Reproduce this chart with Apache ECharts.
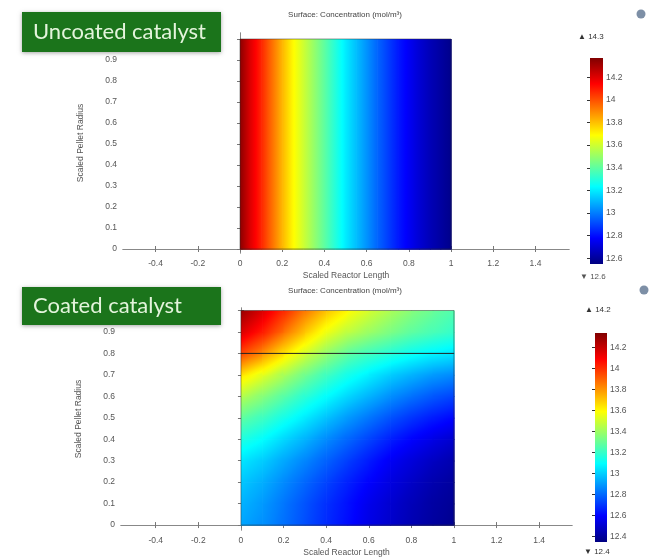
<!DOCTYPE html>
<html>
<head>
<meta charset="utf-8">
<script src="https://cdn.jsdelivr.net/npm/echarts@6/dist/echarts.min.js"></script>
<style>html,body{margin:0;padding:0;background:#fff;}#c{width:662px;height:558px;}</style>
</head>
<body>
<div id="c"></div>
<script>
// ---------- data ----------
// Uncoated catalyst: concentration varies only along reactor length
const topX = [0, 0.05, 0.1, 0.15, 0.2, 0.25, 0.3, 0.35, 0.4, 0.45, 0.5, 0.55, 0.6, 0.65, 0.7, 0.75, 0.8, 0.85, 0.9, 0.95, 1.0];
const topConc = [14.35, 14.2, 14.08, 13.95, 13.82, 13.7, 13.6, 13.5, 13.4, 13.3, 13.2, 13.12, 13.04, 12.96, 12.89, 12.82, 12.76, 12.7, 12.65, 12.61, 12.57];
// Coated catalyst: 2D field, rows from radius 0 (bottom) to 1 (top)
const botX = [0, 0.1, 0.2, 0.3, 0.4, 0.5, 0.6, 0.7, 0.8, 0.9, 1.0];
const botY = [0, 0.1, 0.2, 0.3, 0.4, 0.5, 0.6, 0.7, 0.8, 0.9, 1.0];
const botConc = [
  [12.92, 12.88, 12.82, 12.75, 12.68, 12.62, 12.55, 12.5, 12.45, 12.41, 12.38],
  [12.95, 12.9, 12.83, 12.76, 12.69, 12.63, 12.56, 12.51, 12.46, 12.42, 12.39],
  [12.99, 12.94, 12.87, 12.8, 12.73, 12.66, 12.6, 12.54, 12.49, 12.44, 12.41],
  [13.05, 13.0, 12.93, 12.86, 12.79, 12.72, 12.65, 12.58, 12.53, 12.48, 12.44],
  [13.16, 13.1, 13.02, 12.95, 12.87, 12.8, 12.73, 12.66, 12.6, 12.55, 12.5],
  [13.28, 13.22, 13.14, 13.06, 12.98, 12.9, 12.83, 12.76, 12.7, 12.65, 12.61],
  [13.45, 13.36, 13.27, 13.18, 13.1, 13.02, 12.95, 12.88, 12.82, 12.77, 12.73],
  [13.65, 13.54, 13.43, 13.32, 13.22, 13.14, 13.07, 13.0, 12.95, 12.9, 12.87],
  [13.97, 13.82, 13.65, 13.51, 13.39, 13.28, 13.22, 13.17, 13.12, 13.08, 13.05],
  [14.16, 14.05, 13.88, 13.71, 13.56, 13.47, 13.4, 13.34, 13.28, 13.24, 13.2],
  [14.3, 14.16, 14.02, 13.86, 13.72, 13.6, 13.51, 13.43, 13.36, 13.3, 13.25]
];
const coatingBoundary = [[0, 0.8], [1, 0.8]];
const domainOutline = [[0, 0], [1, 0], [1, 1], [0, 1], [0, 0]];
// tick labels
const xTicks = [-0.4, -0.2, 0, 0.2, 0.4, 0.6, 0.8, 1, 1.2, 1.4];
const yTicks = [0, 0.1, 0.2, 0.3, 0.4, 0.5, 0.6, 0.7, 0.8, 0.9, 1];
const topBarTicks = [12.6, 12.8, 13, 13.2, 13.4, 13.6, 13.8, 14, 14.2];
const botBarTicks = [12.4, 12.6, 12.8, 13, 13.2, 13.4, 13.6, 13.8, 14, 14.2];
const topColorRange = [12.55, 14.37];
const botColorRange = [12.35, 14.34];
const topExtremes = ['14.3', '12.6'];
const botExtremes = ['14.2', '12.4'];
const titles = ['Uncoated catalyst', 'Coated catalyst'];
const plotTitle = 'Surface: Concentration (mol/m\u00b3)';
const xName = 'Scaled Reactor Length';
const yName = 'Scaled Pellet Radius';

// ---------- colour map (jet) ----------
const jetStops = [[0, [0, 0, 128]], [0.125, [0, 0, 255]], [0.375, [0, 255, 255]], [0.625, [255, 255, 0]], [0.875, [255, 0, 0]], [1, [128, 0, 0]]];
function jet(t) {
  t = Math.max(0, Math.min(1, t));
  for (let i = 1; i < jetStops.length; i++) {
    if (t <= jetStops[i][0]) {
      const a = jetStops[i - 1], b = jetStops[i];
      const f = (t - a[0]) / (b[0] - a[0]);
      const c = a[1].map((v, k) => Math.round(v + (b[1][k] - v) * f));
      return 'rgb(' + c.join(',') + ')';
    }
  }
  return 'rgb(128,0,0)';
}

// ---------- build cell tables ----------
const topCells = [];
for (let i = 0; i < topX.length - 1; i++) {
  topCells.push([topX[i], topX[i + 1], 0, 1, topConc[i], topConc[i + 1], topConc[i], topConc[i + 1]]);
}
const botCells = [];
for (let j = 0; j < botY.length - 1; j++) {
  for (let i = 0; i < botX.length - 1; i++) {
    botCells.push([botX[i], botX[i + 1], botY[j], botY[j + 1],
      botConc[j][i], botConc[j][i + 1], botConc[j + 1][i], botConc[j + 1][i + 1]]);
  }
}

function makeCellRenderer(range) {
  return function (params, api) {
    const x0 = api.value(0), x1 = api.value(1), y0 = api.value(2), y1 = api.value(3);
    const v00 = api.value(4), v10 = api.value(5), v01 = api.value(6), v11 = api.value(7);
    const pa = api.coord([x0, y0]), pb = api.coord([x1, y1]);
    const left = Math.min(pa[0], pb[0]), right = Math.max(pa[0], pb[0]);
    const top = Math.min(pa[1], pb[1]), bottom = Math.max(pa[1], pb[1]);
    const w = right - left, h = bottom - top;
    const gx = ((v10 - v00) + (v11 - v01)) / 2 / w;
    const gy = -((v01 - v00) + (v11 - v10)) / 2 / h;
    const mag = Math.hypot(gx, gy);
    let ux = 1, uy = 0;
    if (mag > 1e-9) { ux = gx / mag; uy = gy / mag; }
    const half = (Math.abs(ux) * w + Math.abs(uy) * h) / 2;
    const cx = left + w / 2, cy = top + h / 2;
    const vc = (v00 + v10 + v01 + v11) / 4;
    const vs = vc - mag * half, ve = vc + mag * half;
    const stops = [];
    const N = 8;
    for (let k = 0; k <= N; k++) {
      const v = vs + (ve - vs) * k / N;
      stops.push({ offset: k / N, color: jet((v - range[0]) / (range[1] - range[0])) });
    }
    return {
      type: 'rect',
      shape: { x: left, y: top, width: w + 0.7, height: h + 0.7 },
      style: { fill: new echarts.graphic.LinearGradient(cx - ux * half, cy - uy * half, cx + ux * half, cy + uy * half, stops, true) }
    };
  };
}

function colorbarRenderer(params, api) {
  const pa = api.coord([0, api.value(0)]), pb = api.coord([1, api.value(1)]);
  const stops = jetStops.map(s => ({ offset: 1 - s[0], color: 'rgb(' + s[1].join(',') + ')' })).reverse();
  return {
    type: 'rect',
    shape: { x: pa[0], y: pb[1], width: pb[0] - pa[0], height: pa[1] - pb[1] },
    style: { fill: new echarts.graphic.LinearGradient(0, 0, 0, 1, stops) }
  };
}

// ---------- axes ----------
const lbl = { fontSize: 8.5, color: '#555', fontFamily: 'Liberation Sans' };
const axisLineStyle = { lineStyle: { color: '#888', width: 1 } };
function mainX(grid, min, max) {
  return [
    { type: 'value', gridIndex: grid, position: 'bottom', min: min, max: max,
      name: xName, nameLocation: 'middle', nameGap: 18,
      nameTextStyle: { fontSize: 8.5, color: '#555', fontFamily: 'Liberation Sans' },
      axisLine: axisLineStyle, splitLine: { show: false },
      axisTick: { inside: true, length: 3, lineStyle: { color: '#777' }, customValues: xTicks },
      axisLabel: Object.assign({ margin: 6, customValues: xTicks }, lbl) },
    { type: 'value', gridIndex: grid, position: 'top', min: min, max: max,
      axisLine: axisLineStyle, splitLine: { show: false },
      axisTick: { inside: true, length: 3, lineStyle: { color: '#777' }, customValues: xTicks },
      axisLabel: { show: false } }
  ];
}
function mainY(grid, min, max) {
  return [
    { type: 'value', gridIndex: grid, position: 'left', min: min, max: max,
      name: yName, nameLocation: 'middle', nameGap: 38, nameRotate: 90,
      nameTextStyle: { fontSize: 8.5, color: '#555', fontFamily: 'Liberation Sans' },
      axisLine: axisLineStyle, splitLine: { show: false },
      axisTick: { inside: true, length: 3, lineStyle: { color: '#777' }, customValues: yTicks },
      axisLabel: Object.assign({ margin: 6, customValues: yTicks }, lbl) },
    { type: 'value', gridIndex: grid, position: 'right', min: min, max: max,
      axisLine: axisLineStyle, splitLine: { show: false },
      axisTick: { inside: true, length: 3, lineStyle: { color: '#777' }, customValues: yTicks },
      axisLabel: { show: false } }
  ];
}
function barY(grid, range, ticks) {
  return { type: 'value', gridIndex: grid, position: 'right', min: range[0], max: range[1],
    axisLine: { show: false }, splitLine: { show: false },
    axisTick: { inside: true, length: 3, lineStyle: { color: '#333' }, customValues: ticks },
    axisLabel: Object.assign({ margin: 3, customValues: ticks }, lbl) };
}
function barX(grid) {
  return { type: 'value', gridIndex: grid, min: 0, max: 1, show: false };
}

const option = {
  animation: false,
  backgroundColor: '#fff',
  grid: [
    { left: 123, right: 93, top: 33, bottom: 305 },
    { left: 121, right: 90, top: 308, bottom: 27 },
    { left: 590, right: 59, top: 58, bottom: 294 },
    { left: 595, right: 55, top: 333, bottom: 16 }
  ],
  xAxis: [].concat(mainX(0, -0.5545, 1.559), mainX(1, -0.563, 1.554), [barX(2), barX(3)]),
  yAxis: [].concat(mainY(0, -0.019, 1.0286), mainY(1, -0.023, 1.0116), [barY(2, topColorRange, topBarTicks), barY(3, botColorRange, botBarTicks)]),
  series: [
    { type: 'custom', xAxisIndex: 0, yAxisIndex: 0, renderItem: makeCellRenderer(topColorRange), data: topCells, silent: true },
    { type: 'line', xAxisIndex: 0, yAxisIndex: 0, data: domainOutline, symbol: 'none', lineStyle: { color: 'rgba(40,40,40,0.6)', width: 0.8 }, silent: true },
    { type: 'custom', xAxisIndex: 2, yAxisIndex: 2, renderItem: makeCellRenderer(botColorRange), data: botCells, silent: true },
    { type: 'line', xAxisIndex: 2, yAxisIndex: 2, data: domainOutline, symbol: 'none', lineStyle: { color: 'rgba(40,40,40,0.6)', width: 0.8 }, silent: true },
    { type: 'line', xAxisIndex: 2, yAxisIndex: 2, data: coatingBoundary, symbol: 'none', lineStyle: { color: '#222', width: 1 }, silent: true },
    { type: 'custom', xAxisIndex: 4, yAxisIndex: 4, renderItem: colorbarRenderer, data: [topColorRange], silent: true },
    { type: 'custom', xAxisIndex: 5, yAxisIndex: 5, renderItem: colorbarRenderer, data: [botColorRange], silent: true }
  ],
  graphic: [
    { type: 'text', style: { x: 345, y: 15, text: plotTitle, font: '8px Liberation Sans', fill: '#444', align: 'center', verticalAlign: 'middle' }, z: 50 },
    { type: 'text', style: { x: 345, y: 291, text: plotTitle, font: '8px Liberation Sans', fill: '#444', align: 'center', verticalAlign: 'middle' }, z: 50 },
    { type: 'rect', shape: { x: 22, y: 12, width: 199, height: 40 }, style: { fill: '#1b741b', shadowBlur: 4, shadowColor: 'rgba(0,0,0,0.35)', shadowOffsetY: 1 }, z: 100 },
    { type: 'text', style: { x: 33, y: 32, text: titles[0], font: '22px Lato', fill: '#e4f4dc', verticalAlign: 'middle' }, z: 101 },
    { type: 'rect', shape: { x: 22, y: 287, width: 199, height: 38 }, style: { fill: '#1b741b', shadowBlur: 4, shadowColor: 'rgba(0,0,0,0.35)', shadowOffsetY: 1 }, z: 100 },
    { type: 'text', style: { x: 33, y: 306, text: titles[1], font: '22px Lato', fill: '#e4f4dc', verticalAlign: 'middle' }, z: 101 },
    { type: 'text', style: { x: 578, y: 37, text: '\u25b2 ' + topExtremes[0], font: '8px Liberation Sans', fill: '#333', verticalAlign: 'middle' }, z: 50 },
    { type: 'text', style: { x: 580, y: 277, text: '\u25bc ' + topExtremes[1], font: '8px Liberation Sans', fill: '#555', verticalAlign: 'middle' }, z: 50 },
    { type: 'text', style: { x: 585, y: 310, text: '\u25b2 ' + botExtremes[0], font: '8px Liberation Sans', fill: '#333', verticalAlign: 'middle' }, z: 50 },
    { type: 'text', style: { x: 584, y: 552, text: '\u25bc ' + botExtremes[1], font: '8px Liberation Sans', fill: '#333', verticalAlign: 'middle' }, z: 50 },
    { type: 'circle', shape: { cx: 641, cy: 14, r: 4.5 }, style: { fill: '#7d8fa6' }, z: 50 },
    { type: 'circle', shape: { cx: 644, cy: 290, r: 4.5 }, style: { fill: '#7d8fa6' }, z: 50 }
  ]
};
const chart = echarts.init(document.getElementById('c'), null, { renderer: 'canvas' });
chart.setOption(option);
</script>
</body>
</html>
